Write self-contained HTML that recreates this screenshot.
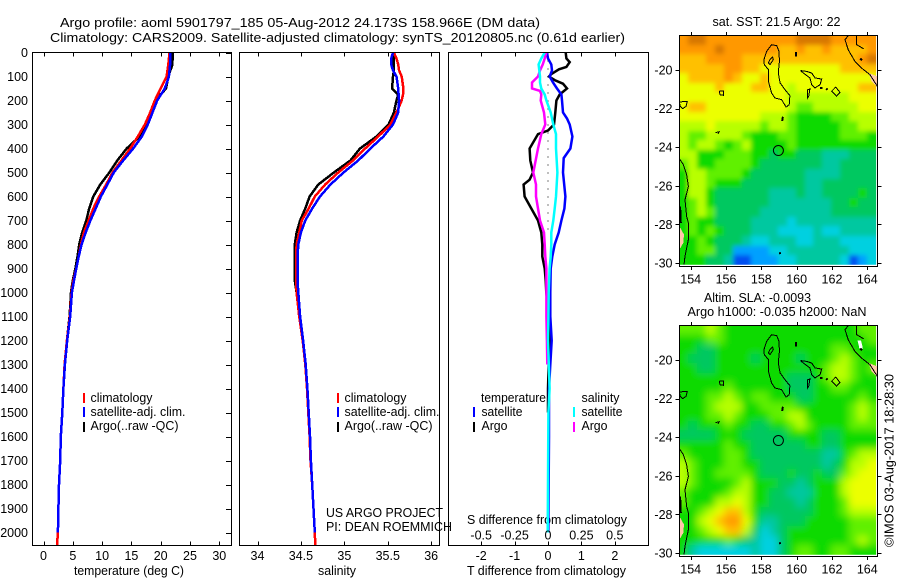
<!DOCTYPE html>
<html lang="en">
<head>
<meta charset="utf-8">
<title>Argo profile 5901797_185</title>
<style>
html,body{margin:0;padding:0;background:#fff;}
svg{display:block;font-family:"Liberation Sans",sans-serif;font-size:12.5px;fill:#000;}
text{fill:#000;stroke:none;}
</style>
</head>
<body>
<svg id="chart" xmlns="http://www.w3.org/2000/svg" width="900" height="580" viewBox="0 0 900 580">
  <rect x="0" y="0" width="900" height="580" fill="#fff"/>
  <text x="60" y="27" font-size="13" textLength="480" lengthAdjust="spacingAndGlyphs">Argo profile: aoml 5901797_185 05-Aug-2012 24.173S 158.966E (DM data)</text>
  <text x="50" y="42" font-size="13" textLength="575" lengthAdjust="spacingAndGlyphs">Climatology: CARS2009. Satellite-adjusted climatology: synTS_20120805.nc (0.61d earlier)</text>

  <text x="74" y="575" textLength="110" lengthAdjust="spacingAndGlyphs">temperature (deg C)</text>
  <text x="318" y="575" textLength="38" lengthAdjust="spacingAndGlyphs">salinity</text>
  <text x="467" y="575" textLength="159" lengthAdjust="spacingAndGlyphs">T difference from climatology</text>
  <text x="467" y="524" textLength="160" lengthAdjust="spacingAndGlyphs">S difference from climatology</text>

  <g>
    <rect x="83" y="393" width="2" height="10" fill="#f00"/>
    <rect x="83" y="407" width="2" height="10" fill="#00f"/>
    <rect x="83" y="422" width="2" height="10" fill="#000"/>
    <text x="90.5" y="402" textLength="62" lengthAdjust="spacingAndGlyphs">climatology</text>
    <text x="90.5" y="416" textLength="95" lengthAdjust="spacingAndGlyphs">satellite-adj. clim.</text>
    <text x="90.5" y="430" textLength="88" lengthAdjust="spacingAndGlyphs">Argo(..raw -QC)</text>
  </g>
  <g>
    <rect x="337" y="393" width="2" height="10" fill="#f00"/>
    <rect x="337" y="407" width="2" height="10" fill="#00f"/>
    <rect x="337" y="422" width="2" height="10" fill="#000"/>
    <text x="344.5" y="402" textLength="62" lengthAdjust="spacingAndGlyphs">climatology</text>
    <text x="344.5" y="416" textLength="95" lengthAdjust="spacingAndGlyphs">satellite-adj. clim.</text>
    <text x="344.5" y="430" textLength="88" lengthAdjust="spacingAndGlyphs">Argo(..raw -QC)</text>
  </g>
  <text x="326" y="517" textLength="117" lengthAdjust="spacingAndGlyphs">US ARGO PROJECT</text>
  <text x="326" y="531" textLength="126" lengthAdjust="spacingAndGlyphs">PI: DEAN ROEMMICH</text>
  <g>
    <text x="481" y="402" textLength="65" lengthAdjust="spacingAndGlyphs">temperature</text>
    <rect x="473" y="407" width="2" height="10" fill="#00f"/>
    <rect x="473" y="422" width="2" height="10" fill="#000"/>
    <text x="481.5" y="416" textLength="41" lengthAdjust="spacingAndGlyphs">satellite</text>
    <text x="481.5" y="430" textLength="26" lengthAdjust="spacingAndGlyphs">Argo</text>
    <text x="581.5" y="402" textLength="38" lengthAdjust="spacingAndGlyphs">salinity</text>
    <rect x="573" y="407" width="2" height="10" fill="#0ff"/>
    <rect x="573" y="422" width="2" height="10" fill="#f0f"/>
    <text x="581.5" y="416" textLength="41" lengthAdjust="spacingAndGlyphs">satellite</text>
    <text x="581.5" y="430" textLength="26" lengthAdjust="spacingAndGlyphs">Argo</text>
  </g>

  <text x="712.5" y="26" textLength="128" lengthAdjust="spacingAndGlyphs">sat. SST: 21.5  Argo: 22</text>
  <text x="704" y="302" textLength="107" lengthAdjust="spacingAndGlyphs">Altim. SLA: -0.0093</text>
  <text x="687.5" y="316" textLength="179" lengthAdjust="spacingAndGlyphs">Argo h1000: -0.035 h2000: NaN</text>
  <text transform="translate(893.5,547) rotate(-90)" textLength="173" lengthAdjust="spacingAndGlyphs">©IMOS 03-Aug-2017 18:28:30</text>
</svg>
<script>
// ---------- profile data ----------
const depthTicks = [0,100,200,300,400,500,600,700,800,900,1000,1100,1200,1300,1400,1500,1600,1700,1800,1900,2000];
const tempTicks = [0,5,10,15,20,25,30];
const salTicks = [34,34.5,35,35.5,36];
const salTickLabels = ['34','34.5','35','35.5','36'];
const tDiffTicks = [-2,-1,0,1,2];
const sDiffTicks = [-0.5,-0.25,0,0.25,0.5];
const sDiffTickLabels = ['-0.5','-0.25','0','0.25','0.5'];

const tempDepths = [0,50,100,150,200,250,300,350,400,450,500,550,600,650,700,750,800,850,900,950,1000,1100,1200,1300,1400,1500,1600,1700,1800,1900,2000,2054];
const tempClim = [21.5,21.3,21,20,19,18.2,17.3,16.1,14.8,13.3,11.8,10.7,9.5,8.5,7.7,6.9,6.4,6,5.6,5.1,4.8,4.5,4.0,3.6,3.4,3.2,2.95,2.85,2.65,2.55,2.45,2.3];
const tempSat = [21.6,21.6,21.4,20.7,19.4,18.6,17.8,16.8,15.3,13.6,12,10.9,9.8,8.9,8,7.2,6.5,6,5.6,5.2,4.85,4.55,4.05,3.65,3.4,3.2,2.95,2.85,2.65,2.55,2.45];
const tempArgo = [22.05,22,21.3,20.9,19.1,18.3,17.4,16.4,14.2,12.6,11.25,9.7,8.5,7.8,7.3,6.6,6.1,5.8,5.45,5,4.7,4.45,4.0,3.6,3.4,3.2];

const salDepths = [0,25,50,75,100,150,175,200,250,300,350,400,450,500,550,600,650,700,750,800,850,900,950,1000,1100,1200,1300,1400,1500,1600,1700,1800,1900,2000,2054];
const salClim = [35.57,35.6,35.62,35.63,35.66,35.68,35.675,35.66,35.6,35.53,35.39,35.24,35.1,34.93,34.78,34.66,34.59,34.51,34.48,34.45,34.445,34.445,34.445,34.45,34.48,34.52,34.55,34.57,34.585,34.6,34.61,34.63,34.645,34.66,34.665];
const salSat = [35.56,35.54,35.54,35.56,35.6,35.62,35.625,35.63,35.62,35.56,35.45,35.3,35.16,34.99,34.84,34.72,34.63,34.55,34.5,34.47,34.46,34.46,34.46,34.47,34.49,34.525,34.555,34.575,34.59,34.605,34.615,34.63,34.645,34.66];
const salArgo = [35.57,35.57,35.57,35.57,35.56,35.55,35.62,35.6,35.57,35.51,35.37,35.18,35.07,34.88,34.7,34.6,34.55,34.49,34.45,34.43,34.43,34.43,34.43,34.45,34.48,34.52,34.55,34.57,34.585];

const tDiffArgoDepths = [0,25,40,60,70,90,100,115,130,150,175,200,250,300,325,340,400,450,500,530,550,600,650,700,750,800,850,900,950,1000,1100,1200,1300,1400,1500];
const tDiffArgo = [0.53,0.55,0.65,0.55,0.33,0.1,0.03,0.2,0.45,0.57,0.35,0.25,0.22,0.18,0,-0.3,-0.55,-0.53,-0.45,-0.55,-0.73,-0.7,-0.5,-0.3,-0.2,-0.17,-0.17,-0.1,-0.07,-0.05,0.03,0.05,0.02,0,0];
const tDiffSatDepths = [0,25,50,75,100,125,150,175,200,250,275,300,350,400,440,500,600,650,700,750,800,850,900,1000,1100,1200,1300,1400,1500,1600,2000];
const tDiffSat = [-0.03,0,0.1,0.12,0.05,0.15,0.27,0.4,0.42,0.45,0.57,0.65,0.73,0.67,0.47,0.45,0.52,0.49,0.4,0.32,0.2,0.13,0.08,0.07,0.07,0.11,0.07,0.03,0.03,0.03,0.01];
const sDiffArgoDepths = [0,25,50,75,100,125,150,160,175,200,250,300,340,400,500,550,600,650,700,750,800,850,900,1000,1100,1200,1300];
const sDiffArgo = [-0.0125,-0.025,-0.04,-0.06,-0.075,-0.12,-0.12,-0.06,-0.05,-0.055,-0.03,-0.02,-0.05,-0.075,-0.11,-0.09,-0.09,-0.075,-0.06,-0.03,-0.025,-0.02,-0.012,-0.012,-0.012,-0.008,-0.005];
const sDiffSatDepths = [0,25,50,100,125,150,175,200,250,300,340,400,500,600,650,700,750,800,850,900,1000,1100,1200,1400,1500,2000];
const sDiffSat = [-0.025,-0.05,-0.07,-0.06,-0.06,-0.05,-0.025,-0.012,0.02,0.04,0.06,0.06,0.07,0.06,0.05,0.04,0.025,0.025,0.02,0.012,0.005,0.003,0,0.012,0.003,-0.002];

// ---------- map data (colour level per half-degree cell, north to south) ----------
const mapLonTicks = [154,156,158,160,162,164];
const mapLatTicks = [-20,-22,-24,-26,-28,-30];
const sstLevels = [
[10,11,11,10,10,10,10,10,10,10,10,10,10,11,11,11,11,10,10,10,10,10],
[10,10,10,10,11,10,10,10,10,10,10,9,9,10,9,9,10,9,9,9,9,10],
[9,9,9,10,10,10,10,9,9,9,9,9,9,9,9,9,9,9,9,9,10,11],
[9,9,9,9,9,10,10,9,9,8,8,8,8,8,8,8,8,8,9,9,9,9],
[8,9,9,9,9,10,9,8,8,9,8,8,8,8,8,8,8,8,8,8,8,8],
[8,8,8,8,9,8,8,8,9,9,8,8,7,8,8,8,8,8,8,8,9,9],
[8,8,8,8,8,8,8,8,8,8,8,8,7,7,7,7,7,7,7,8,8,8],
[8,9,9,8,8,8,8,8,8,8,8,8,7,6,6,7,7,7,7,7,8,8],
[8,8,8,8,8,8,8,8,8,7,7,7,6,5,5,5,5,6,6,7,7,7],
[7,7,7,8,7,7,7,7,7,6,7,7,6,5,5,5,5,5,6,6,7,7],
[7,6,6,7,7,7,7,6,5,5,5,6,6,5,5,5,5,5,6,6,6,5],
[7,6,7,7,6,5,6,7,5,5,5,5,6,5,5,5,5,5,5,5,5,5],
[7,7,5,5,5,6,6,6,5,5,4,5,5,4,4,4,3,3,3,4,4,4],
[6,7,5,5,6,6,6,6,5,4,4,4,4,4,4,4,3,3,4,4,4,4],
[5,7,7,6,6,6,6,5,4,4,4,4,4,4,3,3,3,3,4,4,4,4],
[5,7,7,6,5,5,5,4,4,4,4,4,4,4,3,3,4,4,4,4,4,4],
[5,7,7,5,4,4,4,4,4,4,3,3,3,4,3,3,4,4,4,4,5,4],
[5,6,7,5,4,4,4,4,4,4,3,3,3,3,3,3,3,4,4,5,4,4],
[5,6,7,6,4,4,4,4,4,3,3,3,3,3,3,3,3,4,4,4,4,4],
[5,6,5,5,4,4,4,4,3,3,3,3,2,3,3,3,3,3,3,3,3,3],
[5,6,5,6,5,4,4,4,3,3,3,2,2,2,2,3,2,2,3,3,3,3],
[5,5,6,5,4,4,4,3,2,2,3,3,3,2,2,3,3,3,2,2,2,2],
[5,5,6,6,4,4,1,1,1,1,2,2,3,3,3,3,3,3,3,2,2,2],
[5,5,5,4,4,3,0,0,1,1,1,2,2,3,3,3,3,3,2,0,1,2]
];
const slaLevels = [
[6,6,6,7,6,5,5,5,5,5,5,5,5,5,5,5,5,5,5,5,6,6],
[5,5,5,6,6,5,5,5,5,5,5,5,5,5,5,5,5,5,5,5,5,6],
[5,5,4,4,5,5,5,5,5,5,5,5,5,5,5,5,5,6,6,5,5,5],
[5,4,4,4,5,5,5,5,4,5,5,5,5,4,5,5,5,6,7,6,5,5],
[5,5,4,4,5,5,5,5,5,5,5,5,5,5,5,5,6,7,7,6,5,6],
[5,5,5,5,5,5,5,5,5,5,5,5,4,4,4,5,6,7,7,6,5,5],
[5,5,5,5,5,6,5,5,5,5,5,5,4,4,4,5,5,6,6,5,5,5],
[5,5,5,6,6,7,6,5,6,6,5,5,5,4,4,5,5,5,5,5,6,5],
[5,5,5,6,7,7,7,5,5,6,6,6,6,5,5,5,5,5,5,6,7,6],
[5,5,5,6,6,7,6,5,5,5,6,6,7,7,5,5,5,5,5,6,7,6],
[5,4,5,5,5,6,5,5,4,4,5,5,6,7,6,5,5,5,5,6,6,6],
[4,4,4,4,5,5,5,4,4,4,4,4,5,5,5,5,4,4,5,5,5,5],
[5,5,5,5,5,6,5,5,4,4,4,4,4,4,5,5,4,4,5,5,5,5],
[6,5,5,5,5,6,6,5,4,4,4,4,4,4,4,4,3,3,5,6,7,7],
[7,6,5,5,5,6,6,5,5,4,4,4,4,4,4,4,3,4,5,7,7,8],
[7,6,5,5,6,6,6,6,5,4,4,4,5,4,4,5,4,4,6,7,8,8],
[7,6,5,5,5,5,6,7,5,5,5,4,4,3,4,5,5,5,7,8,8,8],
[6,5,5,5,5,6,7,7,5,5,4,4,3,3,3,5,5,5,7,8,8,8],
[6,5,5,5,7,7,8,7,5,5,4,4,4,3,4,5,5,5,6,8,8,8],
[5,5,6,7,8,9,9,7,5,4,4,4,4,4,4,5,5,5,6,7,7,7],
[5,5,7,8,9,10,10,8,5,3,3,4,4,4,5,5,5,5,5,6,6,6],
[5,5,6,7,8,9,9,7,4,2,3,4,5,5,5,5,5,5,5,6,6,6],
[5,5,5,5,5,6,5,4,3,2,2,4,5,5,5,5,5,5,5,6,7,6],
[5,3,2,2,2,2,2,2,3,2,2,4,5,6,6,5,5,6,6,5,5,5]
];
const levelColors = ['#0050f0','#00a0ff','#00d0e0','#00c8a0','#00c860','#08da00','#60f000','#b8ff00','#ecff00','#ffc000','#ff9800','#d87800'];

// coastlines and reefs as [lon, lat]
const coastLines = [
 [[158.58,-18.69],[158.87,-18.74],[159.0,-19.03],[159.02,-19.55],[158.96,-20.16],[159.06,-20.67],[159.34,-21.02],[159.62,-21.33],[159.58,-21.8],[159.4,-21.92],[159.15,-21.54],[158.77,-21.45],[158.58,-21.19],[158.4,-20.59],[158.4,-19.98],[158.17,-19.72],[158.15,-19.46],[158.3,-19.03],[158.58,-18.69]],
 [[158.49,-19.46],[158.64,-19.33],[158.68,-19.46],[158.49,-19.72],[158.4,-19.63],[158.49,-19.46]],
 [[160.23,-20.03],[160.57,-20.07],[160.85,-20.16],[161.04,-20.41],[161.42,-20.47],[161.32,-20.76],[161.04,-20.93],[160.85,-20.76],[160.75,-20.41],[160.38,-20.16],[160.23,-20.03]],
 [[160.62,-21.02],[160.75,-20.98],[160.68,-21.36],[160.62,-21.45],[160.62,-21.02]],
 [[162.21,-20.88],[162.45,-21.16],[162.26,-21.36],[161.98,-21.1],[162.21,-20.88]],
 [[155.62,-21.1],[155.85,-21.1],[155.85,-21.31],[155.66,-21.28],[155.62,-21.1]],
 [[153.36,-21.66],[153.81,-21.62],[153.74,-21.88],[153.55,-22.0],[153.4,-21.88],[153.36,-21.66]],
 [[155.4,-23.25],[155.6,-23.2],[155.55,-23.3]],
 [[153.36,-24.59],[153.58,-24.9],[153.77,-25.42],[153.87,-26.03],[153.68,-26.72],[153.77,-27.58],[153.87,-27.93],[153.87,-28.79],[153.68,-29.65],[153.62,-30.09]],
 [[162.92,-18.22],[162.74,-18.43],[162.92,-18.95],[163.3,-19.55],[163.68,-19.9],[164.15,-20.24],[164.57,-20.85]],
 [[163.4,-18.19],[163.4,-18.69],[163.81,-18.91]]
];
const reefMarks = [
 [[159.22,-22.42],[159.18,-22.64]],
 [[159.96,-19.07],[159.96,-19.3]],
 [[161.33,-20.93],[161.45,-20.93]],
 [[161.67,-20.96],[161.75,-21.02]],
 [[159.04,-29.44],[159.06,-29.54]],
 [[153.4,-27.06],[153.44,-27.93]],
 [[163.6,-19.4],[163.7,-19.5]]
];
const landAreas = [
 [[164.06,-20.15],[164.57,-20.33],[164.57,-20.88],[164.25,-20.59]],
 [[153.36,-28.1],[153.62,-28.53],[153.58,-28.96],[153.36,-29.31]]
];
const slaMissingArea = [[163.45,-19.0],[163.65,-19.0],[163.75,-19.4],[163.55,-19.4]];
const profileLon = 158.966;
const profileLat = -24.173;

// ---------- axis functions ----------
const SVG_NS = 'http://www.w3.org/2000/svg';
const svg = document.getElementById('chart');
const plotTop = 52.5, plotBottom = 545.5;
function yDepth(d){ return plotTop + d * 0.24; }
function xTemp(t){ return 43.5 + t * 5.86; }
function xSal(s){ return 257.5 + (s - 34) * 86.85; }
function xTDiff(t){ return 548 + t * 33.4; }
function xSDiff(s){ return 548 + s * 133.6; }
const mapLeft = 679.5, mapWidth = 198, mapHeight = 231;
function xLon(lon){ return 690.7 + (lon - 154) * 17.66; }
function yLat(lat, top){ return top + 35 + (-20 - lat) * 19.3; }
const gridLonStart = 153.35, gridLonEnd = 164.5, gridLatStart = -18.19, gridLatEnd = -30.09;

function el(tag, attrs, parent){
  const e = document.createElementNS(SVG_NS, tag);
  for (const k in attrs) e.setAttribute(k, attrs[k]);
  (parent || svg).appendChild(e);
  return e;
}
function addText(parent, x, y, str, anchor, name){
  const t = el('text', {x:x, y:y, 'text-anchor':anchor}, parent);
  
  
  t.textContent = str;
  return t;
}
function tick(parent, x1, y1, x2, y2){
  const l = el('line', {x1:x1, y1:y1, x2:x2, y2:y2, stroke:'#000', 'stroke-width':1, 'shape-rendering':'crispEdges'}, parent);
  
  
}
function frame(parent, x, y, w, h){
  const r = el('rect', {x:x, y:y, width:w, height:h, fill:'none', stroke:'#000', 'stroke-width':1, 'shape-rendering':'crispEdges'}, parent);
  
  
}
function profileLine(parent, xs, depths, xFn, color, width, name, rendering){
  const n = Math.min(xs.length, depths.length);
  let pts = '';
  for (let i = 0; i < n; i++) pts += xFn(xs[i]).toFixed(1) + ',' + yDepth(depths[i]).toFixed(1) + ' ';
  const p = el('polyline', {points:pts, fill:'none', stroke:color, 'stroke-width':width, 'stroke-linejoin':'miter', 'shape-rendering':rendering}, parent);
  
  
}

// ---------- temperature panel ----------
const gT = el('g', {});


profileLine(gT, tempArgo, tempDepths, xTemp, '#000', 2.5, 'temperature-argo-line', 'crispEdges');
profileLine(gT, tempClim, tempDepths, xTemp, '#f00', 2.5, 'temperature-climatology-line', 'crispEdges');
profileLine(gT, tempSat, tempDepths, xTemp, '#00f', 2.5, 'temperature-satellite-line', 'crispEdges');
frame(gT, 32.5, plotTop, 199, plotBottom - plotTop);
tempTicks.forEach(function(v){
  const x = Math.round(xTemp(v)) + 0.5;
  tick(gT, x, plotTop, x, plotTop + 4);
  tick(gT, x, plotBottom, x, plotBottom - 4);
  addText(gT, xTemp(v), 560, String(v), 'middle', 'temperature-tick-label');
});
depthTicks.forEach(function(d){
  const y = Math.round(yDepth(d)) + 0.5;
  tick(gT, 226, y, 231, y);
  addText(gT, 28, yDepth(d) + 4.5, String(d), 'end', 'depth-tick-label');
});

// ---------- salinity panel ----------
const gS = el('g', {});


profileLine(gS, salArgo, salDepths, xSal, '#000', 2.5, 'salinity-argo-line', 'crispEdges');
profileLine(gS, salClim, salDepths, xSal, '#f00', 2.5, 'salinity-climatology-line', 'crispEdges');
profileLine(gS, salSat, salDepths, xSal, '#00f', 2.5, 'salinity-satellite-line', 'crispEdges');
frame(gS, 239.5, plotTop, 200, plotBottom - plotTop);
salTicks.forEach(function(v, i){
  const x = Math.round(xSal(v)) + 0.5;
  tick(gS, x, plotTop, x, plotTop + 4);
  tick(gS, x, plotBottom, x, plotBottom - 4);
  addText(gS, xSal(v), 560, salTickLabels[i], 'middle', 'salinity-tick-label');
});

// ---------- difference panel ----------
const gD = el('g', {});


const zero = el('line', {x1:xTDiff(0), y1:plotTop, x2:xTDiff(0), y2:yDepth(760), stroke:'#000', 'stroke-width':1, 'stroke-dasharray':'1 7', 'shape-rendering':'crispEdges'}, gD);


profileLine(gD, tDiffArgo, tDiffArgoDepths, xTDiff, '#000', 2.5, 't-difference-argo-line', 'auto');
profileLine(gD, tDiffSat, tDiffSatDepths, xTDiff, '#00f', 2.5, 't-difference-satellite-line', 'auto');
profileLine(gD, sDiffArgo, sDiffArgoDepths, xSDiff, '#f0f', 2.5, 's-difference-argo-line', 'auto');
profileLine(gD, sDiffSat, sDiffSatDepths, xSDiff, '#0ff', 2.5, 's-difference-satellite-line', 'auto');
frame(gD, 448.5, plotTop, 200, plotBottom - plotTop);
tDiffTicks.forEach(function(v){
  const x = Math.round(xTDiff(v)) + 0.5;
  tick(gD, x, plotBottom, x, plotBottom - 4);
  addText(gD, xTDiff(v), 560, String(v), 'middle', 't-difference-tick-label');
});
sDiffTicks.forEach(function(v, i){
  const x = Math.round(xSDiff(v)) + 0.5;
  if (v !== 0) tick(gD, x, plotTop, x, plotTop + 4);
  addText(gD, xSDiff(v), 539.5, sDiffTickLabels[i], 'middle', 's-difference-tick-label');
});

// ---------- maps ----------
function polyPoints(list, top){
  return list.map(function(p){ return xLon(p[0]).toFixed(1) + ',' + yLat(p[1], top).toFixed(1); }).join(' ');
}
function drawMap(name, top, grid, clipId, isSla, blurAmount){
  const g = el('g', {});
  
  
  const rows = grid.length, cols = grid[0].length;
  const dLon = (gridLonEnd - gridLonStart) / cols, dLat = (gridLatStart - gridLatEnd) / rows;
  const defs = el('defs', {}, g);
  const cp = el('clipPath', {id:clipId}, defs);
  el('rect', {x:mapLeft, y:top + 0.5, width:mapWidth, height:mapHeight}, cp);
  const gridClip = el('clipPath', {id:clipId + '-grid'}, defs);
  el('rect', {x:mapLeft, y:top, width:xLon(gridLonEnd) - mapLeft, height:yLat(gridLatEnd, top) - top}, gridClip);
  const blur = el('filter', {id:clipId + '-blur', filterUnits:'userSpaceOnUse', x:mapLeft - 30, y:top - 30, width:mapWidth + 60, height:mapHeight + 60}, defs);
  el('feGaussianBlur', {stdDeviation:blurAmount}, blur);
  const clipped = el('g', {'clip-path':'url(#' + clipId + '-grid)'}, g);
  const cellsGroup = el('g', {filter:'url(#' + clipId + '-blur)'}, clipped);
  
  
  grid.forEach(function(row, r){
    row.forEach(function(v, c){
      // outer cells run past the clip so the smoothing does not fade at the map edge
      const x0 = c === 0 ? mapLeft - 25 : Math.round(xLon(gridLonStart + c * dLon));
      const x1 = c === cols - 1 ? mapLeft + mapWidth + 25 : Math.round(xLon(gridLonStart + (c + 1) * dLon));
      const y0 = r === 0 ? top - 25 : Math.round(yLat(gridLatStart - r * dLat, top));
      const y1 = r === rows - 1 ? top + mapHeight + 25 : Math.round(yLat(gridLatStart - (r + 1) * dLat, top));
      const cell = el('rect', {x:x0, y:y0, width:x1 - x0, height:y1 - y0, fill:levelColors[v], 'shape-rendering':'crispEdges'}, cellsGroup);
      
      
    });
  });
  const inner = el('g', {'clip-path':'url(#' + clipId + ')'}, g);
  landAreas.forEach(function(a){
    const land = el('polygon', {points:polyPoints(a, top), fill:'#ffc8a8', 'shape-rendering':'crispEdges'}, inner);
    
    
  });
  if (isSla) {
    const gap = el('polygon', {points:polyPoints(slaMissingArea, top), fill:'#fff', 'shape-rendering':'crispEdges'}, inner);
    
    
  }
  coastLines.forEach(function(c){
    const line = el('polyline', {points:polyPoints(c, top), fill:'none', stroke:'#000', 'stroke-width':1, 'shape-rendering':'crispEdges'}, inner);
    
    
  });
  reefMarks.forEach(function(c){
    const reef = el('polyline', {points:polyPoints(c, top), fill:'none', stroke:'#000', 'stroke-width':2, 'shape-rendering':'crispEdges'}, inner);
    
    
  });
  const marker = el('circle', {cx:xLon(profileLon), cy:yLat(profileLat, top), r:5, fill:'none', stroke:'#000', 'stroke-width':1}, g);
  
  
  frame(g, mapLeft, top + 0.5, mapWidth, mapHeight);
  mapLonTicks.forEach(function(lon){
    const x = Math.round(xLon(lon)) + 0.5;
    tick(g, x, top + 0.5, x, top - 3);
    tick(g, x, top + mapHeight + 0.5, x, top + mapHeight + 4);
    addText(g, xLon(lon), top + mapHeight + 17.5, String(lon), 'middle', 'longitude-tick-label');
  });
  mapLatTicks.forEach(function(lat){
    const y = Math.round(yLat(lat, top)) + 0.5;
    tick(g, mapLeft, y, mapLeft - 4, y);
    tick(g, mapLeft + mapWidth, y, mapLeft + mapWidth + 4, y);
    addText(g, 672.5, yLat(lat, top) + 4.5, String(lat), 'end', 'latitude-tick-label');
  });
}
drawMap('sst-map', 35, sstLevels, 'clip-sst', false, 2.5);
drawMap('sla-map', 325, slaLevels, 'clip-sla', true, 4);
</script>
</body>
</html>
